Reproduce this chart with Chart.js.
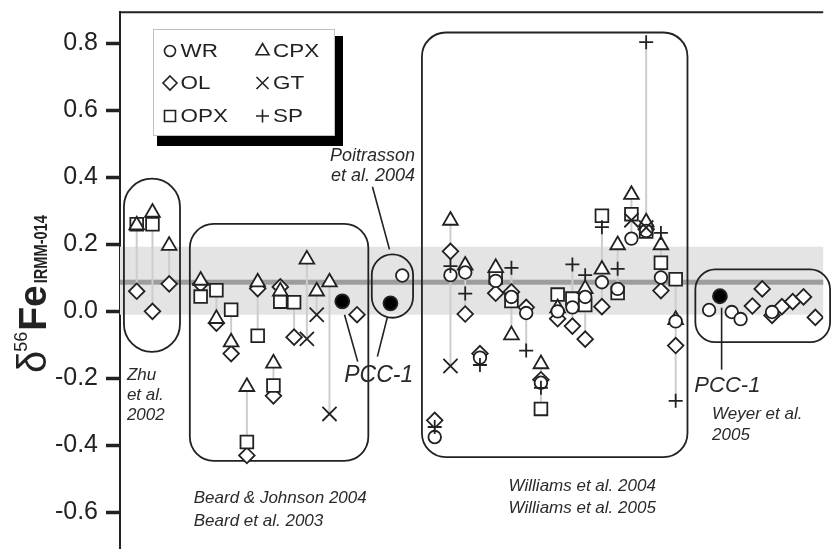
<!DOCTYPE html>
<html><head><meta charset="utf-8">
<script src="https://cdn.jsdelivr.net/npm/chart.js@4.4.1/dist/chart.umd.min.js"></script>
<style>html,body{margin:0;padding:0;background:#fff;}#wrap{position:relative;width:835px;height:560px;}</style>
</head><body><div id="wrap"><canvas id="c" width="835" height="560"></canvas></div>
<script>
// ---- data (x = sample position along the plot, y = δ56Fe) ----
const yTicks = [-0.6, -0.4, -0.2, 0.0, 0.2, 0.4, 0.6, 0.8];
const WR  = [[287,0.107],[320,-0.375],[336,0.108],[351,0.116],[366,-0.138],[382,0.091],[398,0.043],[413,-0.005],[428,-0.213],[445,0.0],[460,0.012],[473,0.043],[490,0.087],[506,0.067],[520,0.217],[535,0.24],[550,0.101],[565,-0.03],[599,0.004],[622,-0.002],[631,-0.023],[663,-0.002]];
const OL  = [[17,0.06],[33,0.0],[50,0.082],[82,0.082],[98,-0.035],[113,-0.126],[129,-0.43],[140,0.068],[156,-0.252],[163,0.073],[177,-0.077],[241,-0.01],[320,-0.325],[336,0.179],[351,-0.008],[366,-0.126],[382,0.054],[398,0.058],[413,0.012],[428,-0.204],[445,-0.022],[460,-0.044],[473,-0.083],[490,0.014],[535,0.245],[550,0.062],[565,-0.102],[643,0.016],[653,0.067],[663,-0.012],[673,0.014],[684,0.029],[695,0.043],[707,-0.018]];
const OPX = [[17,0.26],[33,0.26],[82,0.044],[98,0.063],[113,0.005],[129,-0.39],[140,-0.073],[156,-0.221],[163,0.029],[177,0.027],[382,0.101],[398,0.031],[428,-0.291],[445,0.05],[460,0.038],[473,0.019],[490,0.285],[506,0.055],[520,0.29],[535,0.238],[550,0.145],[565,0.096]];
const CPX = [[17,0.257],[33,0.295],[50,0.196],[82,0.092],[98,-0.022],[113,-0.092],[129,-0.225],[140,0.087],[156,-0.155],[163,0.06],[190,0.155],[200,0.06],[213,0.087],[336,0.271],[351,0.137],[382,0.13],[398,-0.071],[428,-0.157],[445,0.01],[473,0.067],[490,0.125],[506,0.198],[520,0.348],[535,0.266],[550,0.198],[565,-0.025]];
const GT  = [[190,-0.082],[200,-0.01],[213,-0.306],[336,-0.163],[520,0.272],[535,0.25]];
const SP  = [[320,-0.345],[336,0.135],[351,0.053],[366,-0.16],[398,0.13],[413,-0.117],[428,-0.228],[460,0.14],[473,0.108],[490,0.251],[506,0.127],[535,0.803],[550,0.234],[565,-0.267]];
const PCC1 = [[226,0.03],[275,0.024],[610,0.045]];
const bandHigh = 0.193, bandLow = -0.01, bandMean = 0.087;

const FONT = "'Liberation Sans', Arial, Helvetica, sans-serif";
const INK = '#222';

// group outlines (data units), annotations, leaders
const boxes = [
  {x0:4,   x1:61,  y0:0.396, y1:-0.121, r:28},
  {x0:71,  x1:252.5, y0:0.261, y1:-0.446, r:24},
  {x0:256, x1:298, y0:0.170, y1:-0.019, r:21},
  {x0:307, x1:577, y0:0.832, y1:-0.435, r:24},
  {x0:585, x1:722, y0:0.125, y1:-0.092, r:20}
];
const notes = [
  {t:'Zhu', x:7, y:-0.204, s:17, a:'left'},
  {t:'et al.', x:7, y:-0.265, s:17, a:'left'},
  {t:'2002', x:7, y:-0.323, s:17, a:'left'},
  {t:'Beard & Johnson 2004', x:75, y:-0.573, s:17, a:'left'},
  {t:'Beard et al. 2003', x:75, y:-0.640, s:17, a:'left'},
  {t:'Poitrasson', x:300, y:0.449, s:18, a:'right'},
  {t:'et al. 2004', x:300, y:0.388, s:18, a:'right'},
  {t:'Williams et al. 2004', x:470, y:-0.535, s:17, a:'center'},
  {t:'Williams et al. 2005', x:470, y:-0.602, s:17, a:'center'},
  {t:'Weyer et al.', x:602, y:-0.320, s:17, a:'left'},
  {t:'2005', x:602, y:-0.384, s:17, a:'left'},
  {t:'PCC-1', x:228, y:-0.210, s:23, a:'left'},
  {t:'PCC-1', x:584, y:-0.242, s:22, a:'left'}
];
const leaders = [
  [228.3,-0.010,241.7,-0.150],
  [271.7,-0.019,261.7,-0.135],
  [256.7,0.372,274,0.185],
  [611.7,0.011,611.7,-0.174]
];

function pts(a){ return a.map(p => ({x:p[0], y:p[1]})); }
function ds(label, data, style, r, fill){
  return {label, data:pts(data), pointStyle:style, pointRadius:r, pointHoverRadius:r,
    pointBorderColor:INK, pointBackgroundColor: fill || '#fff', pointBorderWidth:1.8,
    borderColor:INK, backgroundColor: fill || '#fff', showLine:false};
}

function rrect(ctx, x0, y0, x1, y1, r){
  r = Math.min(r, (x1-x0)/2, (y1-y0)/2);
  ctx.beginPath();
  ctx.moveTo(x0+r, y0);
  ctx.arcTo(x1, y0, x1, y1, r);
  ctx.arcTo(x1, y1, x0, y1, r);
  ctx.arcTo(x0, y1, x0, y0, r);
  ctx.arcTo(x0, y0, x1, y0, r);
  ctx.closePath();
}

function marker(ctx, style, r, x, y){
  ctx.beginPath();
  if (style==='circle'){ ctx.arc(x,y,r,0,Math.PI*2); ctx.fill(); ctx.stroke(); }
  else if (style==='rectRot'){ ctx.moveTo(x,y-r); ctx.lineTo(x+r,y); ctx.lineTo(x,y+r); ctx.lineTo(x-r,y); ctx.closePath(); ctx.fill(); ctx.stroke(); }
  else if (style==='rect'){ ctx.rect(x-r,y-r,2*r,2*r); ctx.fill(); ctx.stroke(); }
  else if (style==='triangle'){ ctx.moveTo(x,y-r); ctx.lineTo(x+r*0.866,y+r*0.5); ctx.lineTo(x-r*0.866,y+r*0.5); ctx.closePath(); ctx.fill(); ctx.stroke(); }
  else if (style==='crossRot'){ ctx.moveTo(x-r,y-r); ctx.lineTo(x+r,y+r); ctx.moveTo(x+r,y-r); ctx.lineTo(x-r,y+r); ctx.stroke(); }
  else if (style==='cross'){ ctx.moveTo(x-r,y); ctx.lineTo(x+r,y); ctx.moveTo(x,y-r); ctx.lineTo(x,y+r); ctx.stroke(); }
}

const deco = {
  id:'deco',
  beforeDatasetsDraw(chart){
    const {ctx, chartArea:a, scales:{x, y}} = chart;
    ctx.save();
    const yh = y.getPixelForValue(bandHigh), yl = y.getPixelForValue(bandLow);
    ctx.fillStyle = '#e4e4e4';
    ctx.fillRect(a.left, yh, a.right-a.left, yl-yh);
    ctx.fillStyle = '#9d9d9d';
    const ym = y.getPixelForValue(bandMean);
    ctx.fillRect(a.left, ym-2.5, a.right-a.left, 5);
    const groups = {};
    [WR, OL, OPX, CPX, GT, SP].forEach(s => s.forEach(p => {
      const g = groups[p[0]] || (groups[p[0]] = [Infinity, -Infinity]);
      g[0] = Math.min(g[0], p[1]); g[1] = Math.max(g[1], p[1]);
    }));
    ctx.strokeStyle = '#cdcdcd'; ctx.lineWidth = 2;
    Object.keys(groups).forEach(k => {
      const g = groups[k]; if (g[1] - g[0] < 1e-9) return;
      const px = x.getPixelForValue(+k);
      ctx.beginPath(); ctx.moveTo(px, y.getPixelForValue(g[1])); ctx.lineTo(px, y.getPixelForValue(g[0])); ctx.stroke();
    });
    ctx.strokeStyle = INK; ctx.lineWidth = 1.8;
    boxes.forEach(b => {
      rrect(ctx, x.getPixelForValue(b.x0), y.getPixelForValue(b.y0), x.getPixelForValue(b.x1), y.getPixelForValue(b.y1), b.r);
      ctx.stroke();
    });
    ctx.restore();
  },
  afterDatasetsDraw(chart){
    const {ctx, chartArea:a, scales:{x, y}} = chart;
    ctx.save();
    ctx.strokeStyle = INK; ctx.lineWidth = 2;
    ctx.beginPath(); ctx.moveTo(a.left-1, a.top+0.5); ctx.lineTo(a.right, a.top+0.5); ctx.stroke();
    ctx.lineWidth = 1.6;
    leaders.forEach(l => {
      ctx.beginPath(); ctx.moveTo(x.getPixelForValue(l[0]), y.getPixelForValue(l[1]));
      ctx.lineTo(x.getPixelForValue(l[2]), y.getPixelForValue(l[3])); ctx.stroke();
    });
    ctx.fillStyle = '#2a2a2a'; ctx.textBaseline = 'alphabetic';
    notes.forEach(n => {
      ctx.font = `italic ${n.s}px ${FONT}`; ctx.textAlign = n.a;
      ctx.fillText(n.t, x.getPixelForValue(n.x), y.getPixelForValue(n.y));
    });
    // legend
    ctx.fillStyle = '#000'; ctx.fillRect(157, 36, 186, 110);
    ctx.fillStyle = '#fff'; ctx.fillRect(153, 29, 182, 107);
    ctx.strokeStyle = '#c0c0c0'; ctx.lineWidth = 1; ctx.strokeRect(153.5, 29.5, 181, 106);
    const items = [
      ['circle',5.5,'WR',170,51],['triangle',7.5,'CPX',262.5,51],
      ['rectRot',7,'OL',170,83],['crossRot',6,'GT',262.5,83],
      ['rect',5.5,'OPX',170,116],['cross',6.5,'SP',262.5,116]
    ];
    ctx.textAlign = 'left'; ctx.textBaseline = 'middle'; ctx.font = `19px ${FONT}`;
    items.forEach(it => {
      ctx.strokeStyle = INK; ctx.fillStyle = '#fff'; ctx.lineWidth = 1.6;
      marker(ctx, it[0], it[1], it[3], it[4]);
      ctx.fillStyle = INK;
      ctx.save(); ctx.translate(it[3] + 10.5, it[4] + 1); ctx.scale(1.18, 1);
      ctx.fillText(it[2], 0, 0); ctx.restore();
    });
    ctx.restore();
  },
  afterDraw(chart){
    const ctx = chart.ctx;
    ctx.save();
    ctx.translate(46, 373);
    ctx.rotate(-Math.PI/2);
    ctx.fillStyle = INK; ctx.textBaseline = 'alphabetic'; ctx.textAlign = 'left';
    let cx = 0;
    ctx.font = `40px ${FONT}`; ctx.fillText('δ', cx, 0); cx += ctx.measureText('δ').width - 1;
    ctx.font = `18px ${FONT}`; ctx.fillText('56', cx, -19); cx += ctx.measureText('56').width + 1;
    ctx.font = `bold 39px ${FONT}`; ctx.fillText('Fe', cx, 0); cx += ctx.measureText('Fe').width + 2;
    ctx.font = `bold 19px ${FONT}`;
    const w = ctx.measureText('IRMM-014').width;
    ctx.translate(cx, 1); ctx.scale(68 / w, 1); ctx.fillText('IRMM-014', 0, 0);
    ctx.restore();
  }
};

new Chart(document.getElementById('c'), {
  type:'scatter',
  data:{datasets:[
    ds('PCC-1', PCC1, 'circle', 7, '#000'),
    ds('SP', SP, 'cross', 7),
    ds('GT', GT, 'crossRot', 10),
    ds('WR', WR, 'circle', 6.3),
    ds('CPX', CPX, 'triangle', 8.5),
    ds('OPX', OPX, 'rect', 9),
    ds('OL', OL, 'rectRot', 7.8)
  ]},
  options:{
    responsive:false, animation:false, devicePixelRatio:1,
    layout:{padding:{top:9, left:0, right:0, bottom:0}},
    plugins:{legend:{display:false}, tooltip:{enabled:false}},
    scales:{
      x:{type:'linear', min:0, max:715, display:false},
      y:{type:'linear', min:-0.7066, max:0.8937,
        afterFit(s){ s.width = 120; s.paddingTop = 0; s.paddingBottom = 0; },
        afterBuildTicks(s){ s.ticks = yTicks.map(v => ({value:v})); },
        ticks:{callback:v => v.toFixed(1), color:INK, padding:8, font:{family:FONT, size:25}, autoSkip:false},
        grid:{drawOnChartArea:false, drawTicks:true, tickLength:14, tickWidth:3.5, tickColor:INK},
        border:{display:true, color:INK, width:2}
      }
    }
  },
  plugins:[deco]
});
</script></body></html>
